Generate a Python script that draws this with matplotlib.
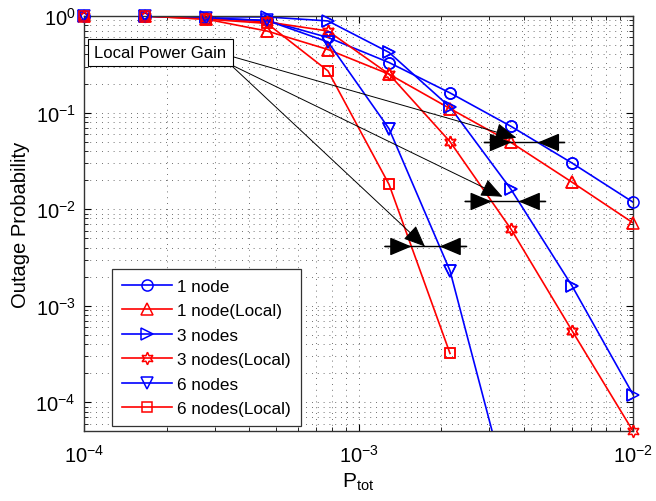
import numpy as np
import matplotlib
matplotlib.use('Agg')
import matplotlib.pyplot as plt

plt.rcParams['font.family'] = ['Liberation Sans', 'DejaVu Sans']
plt.rcParams['mathtext.fontset'] = 'custom'
plt.rcParams['mathtext.rm'] = 'Liberation Sans'
plt.rcParams['mathtext.it'] = 'Liberation Sans:italic'

# total power values (x axis)
p_tot = [1e-4, 1.668e-4, 2.783e-4, 4.642e-4, 7.743e-4,
         1.292e-3, 2.154e-3, 3.594e-3, 5.995e-3, 1e-2]

# outage probabilities
node1 = [1.0, 1.0, 0.96, 0.90, 0.60, 0.33, 0.16, 0.072, 0.030, 0.0118]
node1_local = [1.0, 1.0, 0.93, 0.70, 0.45, 0.25, 0.11, 0.049, 0.019, 0.0072]
node3 = [1.0, 1.0, 0.98, 0.98, 0.89, 0.42, 0.114, 0.016, 0.0016, 1.2e-4]
node3_local = [1.0, 1.0, 0.95, 0.87, 0.70, 0.25, 0.050, 0.0062, 5.5e-4, 5e-5]
node6 = [1.0, 1.0, 0.95, 0.90, 0.54, 0.068, 0.0023, 9e-6]
node6_local = [1.0, 1.0, 0.93, 0.84, 0.27, 0.018, 3.2e-4]

labels = ['1 node', '1 node(Local)', '3 nodes', '3 nodes(Local)',
          '6 nodes', '6 nodes(Local)']
series = [node1, node1_local, node3, node3_local, node6, node6_local]
colors = ['b', 'r', 'b', 'r', 'b', 'r']
markers = ['o', '^', '>', (6, 1, 0), 'v', 's']
msizes = [8, 8, 8, 9, 8, 6.5]

# levels where the "gain" arrows sit, and which pair they span
gap_levels = [0.049, 0.012, 0.0041]
gap_pairs = [(1, 0), (3, 2), (5, 4)]

YMIN, YMAX = 5e-5, 1


def cross_x(xs, ys, level):
    lx = np.log10(xs[:len(ys)])
    ly = np.log10(ys)
    # ys decreasing -> flip for interp
    return 10 ** np.interp(np.log10(level), ly[::-1], lx[::-1])


fig = plt.figure(figsize=(6.56, 5.02), dpi=100)
ax = fig.add_axes([0.128, 0.139, 0.837, 0.827])

for ys, lab, c, m, ms in zip(series, labels, colors, markers, msizes):
    xs = p_tot[:len(ys)]
    ax.plot(xs, ys, color=c, marker=m, ms=ms, mfc='none',
            mec=c, mew=1.1, lw=1.2, label=lab)
    # markers on the frame are drawn whole, like matlab
    keep = [(x, y) for x, y in zip(xs, ys) if YMIN <= y <= YMAX]
    ax.plot([k[0] for k in keep], [k[1] for k in keep], ls='none',
            marker=m, ms=ms, mfc='none', mec=c, mew=1.1, clip_on=False,
            zorder=3)

ax.set_xscale('log')
ax.set_yscale('log')
ax.set_xlim(1e-4, 1e-2)
ax.set_ylim(YMIN, YMAX)

ax.grid(True, which='both', color='0.25', lw=0.6, linestyle=(0, (1, 6)))
ax.tick_params(which='both', direction='in', top=True, right=True,
               labelsize=14.5, colors='k')
ax.tick_params(axis='x', which='major', pad=9)
ax.tick_params(axis='y', which='major', pad=6)
ax.tick_params(which='major', length=5)
ax.tick_params(which='minor', length=3)
for s in ax.spines.values():
    s.set_color('0.2')
    s.set_linewidth(1.0)

ax.set_xlabel(r'P$_{\mathrm{tot}}$', fontsize=15, labelpad=4)
ax.set_ylabel('Outage Probability', fontsize=14.5, labelpad=4)

# gain arrows
head = dict(arrowstyle='-|>,head_length=0.9,head_width=0.38',
            color='k', lw=1.0, mutation_scale=15, shrinkA=0, shrinkB=0)
fracs = [0.2, 0.4, 0.48]
lifts = [1.12, 1.12, 1.0]
starts = [(0.266, 0.904), (0.266, 0.884), (0.266, 0.884)]
for lev, (i_loc, i_full), fr, lf, st in zip(gap_levels, gap_pairs, fracs,
                                             lifts, starts):
    xl = cross_x(p_tot, series[i_loc], lev)
    xr = cross_x(p_tot, series[i_full], lev)
    ax.annotate('', xy=(xl, lev), xytext=(xl / 1.25, lev), arrowprops=head)
    ax.annotate('', xy=(xr, lev), xytext=(xr * 1.25, lev), arrowprops=head)
    ax.plot([xl / 1.25, xr * 1.25], [lev, lev], color='k', lw=1.0)
    xt = xl * (xr / xl) ** fr
    ax.annotate('', xy=(xt, lev * lf), xytext=st, textcoords='axes fraction',
                arrowprops=dict(head, lw=0.7))

ax.text(0.019, 0.912, 'Local Power Gain', transform=ax.transAxes,
        fontsize=12, va='center', ha='left',
        bbox=dict(boxstyle='square,pad=0.38', fc='white', ec='k', lw=0.8))

leg = ax.legend(loc='lower left', bbox_to_anchor=(0.051, 0.012),
                fontsize=12.3, handlelength=2.9, labelspacing=0.55,
                borderpad=0.6, handletextpad=0.3, fancybox=False,
                framealpha=1, edgecolor='0.2', borderaxespad=0)
leg.get_frame().set_linewidth(0.9)

fig.savefig('out.png', dpi=100)
